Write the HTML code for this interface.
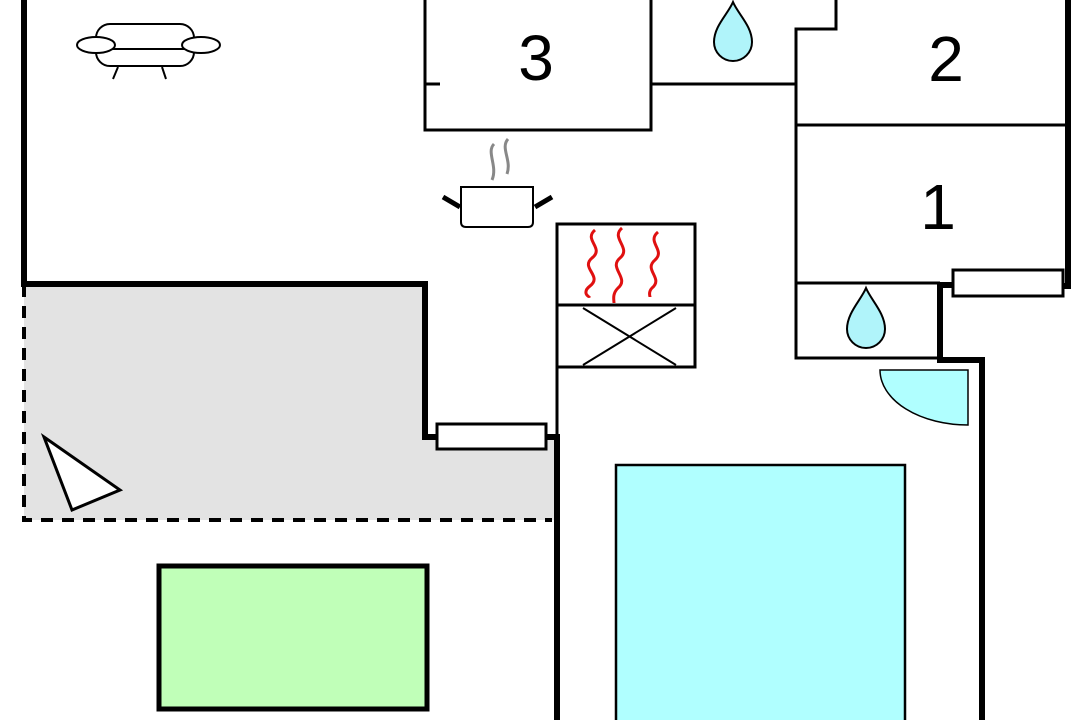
<!DOCTYPE html>
<html><head><style>html,body{margin:0;padding:0;background:#fff}svg{display:block}</style></head><body>
<svg width="1080" height="720" viewBox="0 0 1080 720" xmlns="http://www.w3.org/2000/svg">
<rect width="1080" height="720" fill="#fff"/>
<!-- gray terrace -->
<path d="M24 283 H425 V437 H557 V520 H24 Z" fill="#e3e3e3"/>
<!-- dashed -->
<path d="M24 285 V520 H552" fill="none" stroke="#000" stroke-width="4" stroke-dasharray="12 9"/>
<!-- thick walls -->
<g stroke="#000" stroke-width="6" fill="none">
<path d="M24 0 V284 H425 V437 H437"/>
<path d="M546 437 H557 V720"/>
<path d="M1068 0 V286 H1063"/>
<path d="M953 285 H940 V360 H982 V720"/>
</g>
<!-- windows -->
<rect x="437" y="424" width="109" height="25" fill="#fff" stroke="#000" stroke-width="3"/>
<rect x="953" y="270" width="110" height="26" fill="#fff" stroke="#000" stroke-width="3"/>
<!-- thin walls -->
<g stroke="#000" stroke-width="3" fill="none">
<rect x="425" y="-5" width="226" height="135"/>
<path d="M425 84 H440"/>
<path d="M651 84 H796"/>
<path d="M836 0 V29 H796 V358 H940"/>
<path d="M796 125 H1068"/>
<path d="M796 283 H940"/>
<path d="M557 437 V224 H695 V367 H557"/>
<path d="M557 305 H695"/>
<path d="M583 308 L676 365 M676 308 L583 365" stroke-width="2"/>
</g>
<!-- heat waves -->
<g stroke="#e01010" stroke-width="3" fill="none">
<path d="M595 230 C583 240,605 248,592 258 C580 268,603 276,590 286 C582 292,588 298,590 296"/>
<path d="M622 228 C610 238,632 248,620 258 C608 268,630 278,618 288 C612 294,614 300,614 303"/>
<path d="M658 232 C646 242,666 250,655 260 C643 270,664 278,652 288 C648 292,650 296,650 297"/>
</g>
<!-- pot -->
<g stroke="#000" fill="none">
<path d="M461 187 H533 V222 Q533 227 528 227 H466 Q461 227 461 222 Z" fill="#fff" stroke-width="2"/>
<path d="M443 197 L460 207 M535 207 L552 197" stroke-width="5"/>
</g>
<g stroke="#888" stroke-width="3" fill="none">
<path d="M494 144 C486 152,498 166,492 180"/>
<path d="M508 139 C500 148,512 160,507 174"/>
</g>
<!-- sofa -->
<g stroke="#000" stroke-width="2" fill="#fff">
<rect x="96" y="24" width="98" height="42" rx="14"/>
<path d="M98 49 H192"/>
<ellipse cx="96" cy="45" rx="19" ry="8"/>
<ellipse cx="201" cy="45" rx="19" ry="8"/>
<path d="M118 67 L113 79 M162 67 L166 79" fill="none"/>
</g>
<!-- drops -->
<g fill="#b0f4fa" stroke="#000" stroke-width="2">
<path d="M733 2 C738 14,752 26,752 42 A19 19 0 0 1 714 42 C714 26,728 14,733 2 Z"/>
<path d="M866 288 C871 300,885 313,885 329 A19 19 0 0 1 847 329 C847 313,861 300,866 288 Z"/>
</g>
<!-- door -->
<path d="M880 370 H968 V425 A88 55 0 0 1 880 370 Z" fill="#b0ffff" stroke="#000" stroke-width="1.5"/>
<!-- triangle -->
<path d="M44 437 L120 490 L72 510 Z" fill="#fff" stroke="#000" stroke-width="3"/>
<!-- green -->
<rect x="159" y="566" width="268" height="143" fill="#c0ffb8" stroke="#000" stroke-width="5"/>
<!-- cyan -->
<rect x="616" y="465" width="289" height="270" fill="#b0ffff" stroke="#000" stroke-width="2.5"/>
<!-- labels -->
<g font-family="Liberation Sans, sans-serif" font-size="64" fill="#000" text-anchor="middle">
<text x="536" y="80">3</text>
<text x="946" y="81">2</text>
<text x="938" y="229">1</text>
</g>
</svg>
</body></html>
